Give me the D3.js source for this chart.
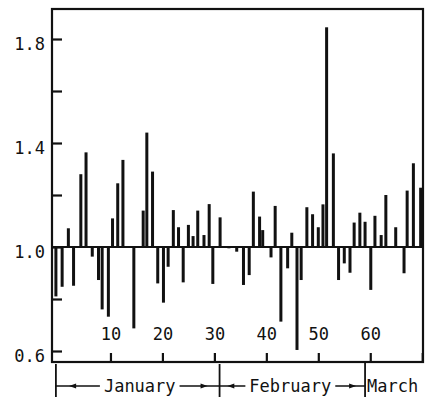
<!DOCTYPE html>
<html>
<head>
<meta charset="utf-8">
<script src="https://cdn.jsdelivr.net/npm/d3@7"></script>
<style>
  html, body { margin: 0; padding: 0; background: #fff; }
  svg { display: block; }
  text { font-family: "DejaVu Sans Mono", monospace; font-size: 17px; fill: #111; }
</style>
</head>
<body>
<svg id="chart" width="427" height="401"></svg>
<script>
// Day position (0 = 1 January) of each daily bar
const day = [
  -0.5, 0.7, 1.9, 2.9, 4.3, 5.3, 6.5, 7.7, 8.4, 9.6, 10.4, 11.4, 12.4,
  14.5, 16.3, 17.0, 18.1, 19.1, 20.2, 21.1, 22.1, 23.1, 24.0, 25.0, 25.9,
  26.8, 28.0, 29.0, 29.7, 31.1, 32.8, 34.3, 35.6, 36.7, 37.5, 38.7, 39.3,
  40.9, 41.7, 42.8, 44.1, 44.9, 45.9, 46.7, 47.8, 48.9, 50.0, 50.9, 51.6,
  52.9, 53.9, 55.0, 56.1, 56.9, 58.0, 59.0, 60.1, 60.9, 62.1, 63.0, 64.9,
  66.5, 67.1, 68.3, 69.7
];
// Daily ratio (1.0 = normal)
const ratio = [
  0.81, 0.847, 1.072, 0.851, 1.28, 1.364, 0.963, 0.873, 0.76, 0.732, 1.11, 1.245, 1.335,
  0.687, 1.14, 1.44, 1.29, 0.86, 0.786, 0.924, 1.142, 1.076, 0.864, 1.085, 1.042,
  1.14, 1.046, 1.165, 0.858, 1.114, 0.995, 0.982, 0.854, 0.892, 1.213, 1.117, 1.065,
  0.96, 1.158, 0.713, 0.918, 1.055, 0.604, 0.873, 1.153, 1.126, 1.076, 1.164, 1.845,
  1.36, 0.873, 0.937, 0.901, 1.094, 1.132, 1.097, 0.835, 1.12, 1.046, 1.2, 1.076,
  0.899, 1.217, 1.322, 1.228
];
const baseline = 1.0;

const yTicks = [0.6, 0.8, 1.0, 1.2, 1.4, 1.6, 1.8];
const yTickLabels = ["0.6", "", "1.0", "", "1.4", "", "1.8"];
const xTicks = [10, 20, 30, 40, 50, 60, 70];
const xTickLabels = ["10", "20", "30", "40", "50", "60", ""];

// Month spans on the day axis
const monthNames = ["January", "February", "March"];
const monthStart = [-0.5, 31, 59];
const monthEnd = [31, 59, 70.15];

const svg = d3.select("#chart");
const plotL = 52, plotR = 423, plotT = 9, plotB = 362;

const x = d3.scaleLinear().domain([-1.25, 70.15]).range([plotL, plotR]);
const y = d3.scaleLinear().domain([0.5577, 1.9154]).range([plotB, plotT]);

// Frame
svg.append("rect")
  .attr("x", plotL).attr("y", plotT)
  .attr("width", plotR - plotL).attr("height", plotB - plotT)
  .attr("fill", "none").attr("stroke", "#111").attr("stroke-width", 2.2);

// Y axis: ticks pointing inward, labels to the left
const yAxis = d3.axisLeft(y)
  .tickValues(yTicks)
  .tickSizeInner(-10).tickSizeOuter(0)
  .tickPadding(7)
  .tickFormat((d, i) => yTickLabels[i]);
const gy = svg.append("g").attr("transform", `translate(${plotL},0)`).call(yAxis);
gy.select(".domain").remove();
gy.selectAll("line").attr("stroke", "#111").attr("stroke-width", 2.2);
gy.selectAll("text").attr("dy", 10)
  .style("font-family", "DejaVu Sans Mono").style("font-size", "17px").attr("fill", "#111");

// X axis: ticks pointing up from the bottom edge, labels inside the plot
const xAxis = d3.axisTop(x)
  .tickValues(xTicks)
  .tickSizeInner(9).tickSizeOuter(0)
  .tickPadding(13)
  .tickFormat((d, i) => xTickLabels[i]);
const gx = svg.append("g").attr("transform", `translate(0,${plotB})`).call(xAxis);
gx.select(".domain").remove();
gx.selectAll("line").attr("stroke", "#111").attr("stroke-width", 2.2);
gx.selectAll("text")
  .style("font-family", "DejaVu Sans Mono").style("font-size", "17px").attr("fill", "#111");

// Reference line at 1.0
svg.append("line")
  .attr("x1", plotL).attr("x2", plotR)
  .attr("y1", y(baseline)).attr("y2", y(baseline))
  .attr("stroke", "#111").attr("stroke-width", 2);

// Bars measured from the 1.0 line
const bars = day.map((d, i) => ({ d, v: ratio[i] }));
svg.append("g").selectAll("rect").data(bars).join("rect")
  .attr("x", b => x(b.d) - 1.5)
  .attr("width", 3)
  .attr("y", b => y(Math.max(b.v, baseline)))
  .attr("height", b => Math.max(1.2, Math.abs(y(b.v) - y(baseline))))
  .attr("fill", "#111");

// Month brackets below the axis
const gm = svg.append("g");
const divY1 = 364, divY2 = 397, arrowY = 386, labelY = 392;
gm.selectAll("line.div").data(monthStart).join("line")
  .attr("class", "div")
  .attr("x1", d => x(d)).attr("x2", d => x(d))
  .attr("y1", (d, i) => i === 2 ? plotB : divY1).attr("y2", divY2)
  .attr("stroke", "#111").attr("stroke-width", 1.8);

function arrowHead(px, dir) {
  // small filled head pointing left (dir=-1) or right (dir=1)
  gm.append("path")
    .attr("d", `M${px},${arrowY} L${px - dir * 7},${arrowY - 2.5} L${px - dir * 7},${arrowY + 2.5} Z`)
    .attr("fill", "#111");
}

monthNames.forEach((name, i) => {
  const x0 = x(monthStart[i]), x1 = x(monthEnd[i]);
  if (i < 2) {
    const cx = (x0 + x1) / 2 + (i === 0 ? 2 : -2);
    const t = gm.append("text")
      .attr("x", cx).attr("y", labelY)
      .attr("text-anchor", "middle")
      .text(name);
    const w = t.node().getComputedTextLength();
    const tl = cx - w / 2 - 4, tr = cx + w / 2 + 4;
    gm.append("line").attr("x1", x0).attr("x2", tl).attr("y1", arrowY).attr("y2", arrowY)
      .attr("stroke", "#111").attr("stroke-width", 1.5);
    gm.append("line").attr("x1", tr).attr("x2", x1).attr("y1", arrowY).attr("y2", arrowY)
      .attr("stroke", "#111").attr("stroke-width", 1.5);
    arrowHead(x0 + (tl - x0) * 0.3, -1);
    arrowHead(x1 - (x1 - tr) * 0.3, 1);
  } else {
    gm.append("text")
      .attr("x", x0 + 2).attr("y", labelY)
      .attr("text-anchor", "start")
      .text(name);
  }
});
</script>
</body>
</html>
